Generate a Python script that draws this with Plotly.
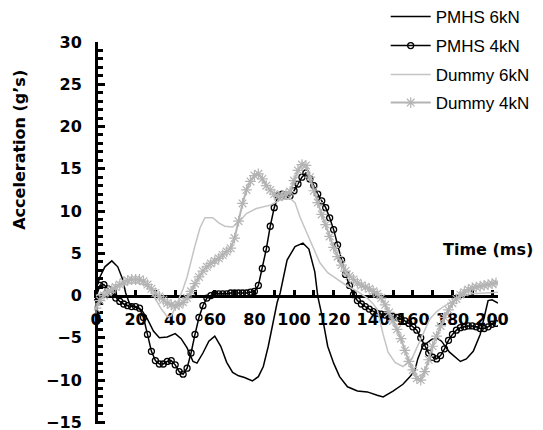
import plotly.graph_objects as go

# ---- data -------------------------------------------------------------
# PMHS 6kN (thin black line)
pmhs6_t = [0, 2, 4.5, 8, 11, 13.5, 15, 17, 20, 23, 26, 29, 32, 36, 40, 43, 46, 49, 51,
           54, 57, 60, 63, 66, 69, 72, 75, 79, 82, 84.5, 87, 89.5, 91.5, 93, 96.5, 100.5,
           104.5, 107.5, 110.5, 112, 114.5, 117, 120, 123, 127, 132, 137, 142, 145, 150,
           155, 158.5, 161, 162.5, 165, 169.5, 172, 174.5, 178.5, 184, 187, 190.5, 194,
           196, 198, 200, 203]
pmhs6_a = [0.7, 2.2, 3.4, 4.1, 3.4, 1.9, 0.3, -1.0, -1.4, -1.7, -2.8, -4.2, -5.0, -4.9, -4.5,
           -5.1, -6.2, -7.8, -8.0, -6.8, -5.4, -4.8, -6.0, -7.9, -9.1, -9.5, -9.7, -10.1,
           -9.6, -8.4, -6.0, -3.2, -0.8, 0.3, 4.2, 5.8, 6.2, 5.5, 2.8, -0.1, -2.8, -6.0,
           -8.0, -9.6, -10.8, -11.3, -11.4, -11.8, -12.0, -11.3, -10.5, -9.6, -8.9, -7.5,
           -6.0, -5.2, -5.0, -5.4, -6.7, -7.8, -7.5, -6.6, -4.6, -2.6, -0.6, -0.5, -0.9]

# PMHS 4kN (black line with open circles), sampled every 2 ms
pmhs4_t = list(range(0, 204, 2))
pmhs4_a = [-0.2, 1.2, 1.3, 0.8, 0.2, -0.3, -0.7, -1.0, -1.2, -1.3,
           -1.3, -1.5, -2.6, -4.6, -6.6, -7.7, -8.1, -8.1, -7.8, -7.7,
           -8.2, -9.0, -9.3, -8.6, -6.8, -4.6, -2.6, -1.2, -0.3, 0.0,
           0.2, 0.2, 0.2, 0.2, 0.3, 0.3, 0.3, 0.3, 0.3, 0.4,
           0.5, 1.2, 3.2, 5.5, 8.2, 10.4, 11.8, 12.0, 11.8, 11.8,
           12.4, 13.2, 14.0, 14.5, 13.8, 13.0, 12.0, 11.2, 10.4, 9.2,
           7.8, 6.0, 4.2, 2.5, 1.2, 0.1, -0.6, -1.0, -1.3, -1.6,
           -1.9, -2.1, -2.2, -2.3, -2.4, -2.5, -2.6, -2.8, -3.0, -3.3,
           -3.7, -4.1, -5.0, -6.0, -6.8, -7.3, -7.5, -7.1, -6.3, -5.3,
           -4.6, -4.1, -3.8, -3.7, -3.6, -3.6, -3.7, -3.9, -3.9, -3.7,
           -3.4, -3.3]

# Dummy 6kN (thin light-grey line)
dummy6_t = [0, 4, 8, 12, 16, 20, 24, 27, 30, 33, 36, 38, 41, 44, 46, 48, 50, 52.5, 55, 59,
            62, 65, 69, 72.5, 76, 81, 88, 93, 98, 100.5, 103, 106.5, 110, 113, 117, 122,
            127, 132, 137, 140, 142, 145, 147.5, 151, 155, 159.5, 163.5, 168.5, 172,
            175.5, 180, 184, 190, 196, 203]
dummy6_a = [0.0, 0.4, 0.8, 1.2, 1.4, 1.5, 1.3, 0.9, -0.4, -1.6, -2.5, -2.4, -0.9, 0.8, 2.2,
            4.2, 5.9, 8.0, 9.2, 9.2, 8.6, 8.2, 8.1, 8.8, 9.7, 10.3, 10.7, 11.3, 11.5, 11.0,
            9.3, 7.4, 5.4, 3.9, 2.7, 1.9, 1.1, 0.5, -0.3, -1.0, -1.6, -4.6, -6.7, -7.9,
            -8.4, -7.5, -5.4, -2.8, -1.9, -1.3, -0.7, -0.1, 0.2, 0.3, 0.4]

# Dummy 4kN (grey line with asterisks), sampled every 2 ms
dummy4_t = list(range(0, 204, 2))
dummy4_a = [-1.5, -0.6, 0.0, 0.4, 0.7, 1.0, 1.3, 1.6, 1.8, 1.9,
            1.9, 1.9, 1.7, 1.3, 0.8, 0.3, -0.1, -0.5, -0.9, -1.1,
            -1.2, -1.1, -0.8, -0.3, 0.5, 1.4, 2.2, 2.9, 3.4, 3.8,
            4.1, 4.4, 4.8, 5.2, 5.6, 6.8, 8.8, 10.9, 12.5, 13.5,
            14.2, 14.4, 13.8, 13.0, 12.5, 12.0, 11.7, 11.8, 12.0, 12.3,
            13.6, 14.8, 15.5, 15.4, 14.0, 12.4, 11.0, 9.6, 8.4, 7.0,
            5.7, 4.6, 3.6, 2.9, 2.3, 1.9, 1.5, 1.2, 1.0, 0.8,
            0.5, 0.2, -0.3, -1.1, -2.0, -3.0, -4.0, -5.1, -6.5, -7.8,
            -8.8, -9.8, -10.0, -9.0, -7.6, -6.0, -4.8, -3.6, -2.6, -1.7,
            -0.9, -0.4, 0.1, 0.4, 0.7, 0.9, 1.0, 1.1, 1.2, 1.3,
            1.4, 1.5]

x_range = [-1, 203]
y_range = [-15.2, 30]

BLACK = "#000000"
GREY = "#b4b4b4"
LIGHT = "#c4c4c4"
TICK_FONT = dict(family="DejaVu Sans", size=16, color=BLACK, weight="bold")
LEGEND_FONT = dict(family="Liberation Sans", size=17, color=BLACK)

fig = go.Figure()
fig.add_trace(go.Scatter(x=pmhs6_t, y=pmhs6_a, name="PMHS 6kN", mode="lines",
                         line=dict(color=BLACK, width=1.5), legend="legend"))
fig.add_trace(go.Scatter(x=pmhs4_t, y=pmhs4_a, name="PMHS 4kN", mode="lines+markers",
                         line=dict(color=BLACK, width=1.5),
                         marker=dict(symbol="circle-open", size=6, color=BLACK,
                                     line=dict(width=1.3, color=BLACK)),
                         legend="legend2"))
fig.add_trace(go.Scatter(x=dummy6_t, y=dummy6_a, name="Dummy 6kN", mode="lines",
                         line=dict(color=LIGHT, width=1.5), legend="legend3"))
fig.add_trace(go.Scatter(x=dummy4_t, y=dummy4_a, name="Dummy 4kN", mode="lines+markers",
                         line=dict(color=GREY, width=2),
                         marker=dict(symbol="asterisk-open", size=9, color=GREY,
                                     line=dict(width=1.2, color=GREY)),
                         legend="legend4"))

# x axis crosses the y axis at zero, y axis crosses at t = 0
zero_y = (0 - y_range[0]) / (y_range[1] - y_range[0])
zero_x = (0 - x_range[0]) / (x_range[1] - x_range[0])

fig.update_xaxes(range=x_range, anchor="free", position=zero_y, side="bottom",
                 showgrid=False, zeroline=False, showline=True, linecolor=BLACK,
                 linewidth=3, ticks="inside", ticklen=5, tickwidth=2.5, tickcolor=BLACK,
                 tick0=0, dtick=20, tickfont=TICK_FONT, ticklabelstandoff=8,
                 ticklabeloverflow="allow",
                 minor=dict(dtick=10, ticks="inside", ticklen=5, tickwidth=2.5,
                            tickcolor=BLACK, showgrid=False),
                 layer="below traces")
fig.update_yaxes(range=y_range, anchor="free", position=zero_x, side="left",
                 showgrid=False, zeroline=False, showline=True, linecolor=BLACK,
                 linewidth=3, ticks="inside", ticklen=7, tickwidth=3, tickcolor=BLACK,
                 tick0=0, dtick=5, tickfont=TICK_FONT, ticklabelstandoff=10,
                 ticklabeloverflow="allow",
                 minor=dict(dtick=1, ticks="inside", ticklen=5, tickwidth=2.5,
                            tickcolor=BLACK, showgrid=False),
                 layer="below traces")

fig.add_annotation(text="Time (ms)", xref="paper", yref="paper", x=0.975, y=0.457,
                   showarrow=False, xanchor="center", yanchor="middle",
                   font=dict(family="DejaVu Sans", size=16, color=BLACK, weight="bold"))
fig.add_annotation(text="Acceleration (g’s)", xref="paper", yref="paper", x=-0.183,
                   y=0.718, showarrow=False, textangle=-90, xanchor="center",
                   yanchor="middle",
                   font=dict(family="DejaVu Sans", size=16, color=BLACK, weight="bold"))

# one legend box per series so the entries sit on an even 29 px pitch
plot_top, plot_h = 42, 382
def legend_at(py):
    return dict(x=0.722, y=(plot_top + plot_h - py) / plot_h, xanchor="left",
                yanchor="middle", font=LEGEND_FONT, bgcolor="rgba(0,0,0,0)",
                itemwidth=40)

fig.update_layout(
    width=543, height=430,
    margin=dict(l=94, r=45, t=plot_top, b=430 - plot_top - plot_h, autoexpand=False),
    paper_bgcolor="white", plot_bgcolor="white",
    showlegend=True,
    legend=legend_at(17),
    legend2=legend_at(46),
    legend3=legend_at(75),
    legend4=legend_at(103),
)

fig.write_html("out.html")
